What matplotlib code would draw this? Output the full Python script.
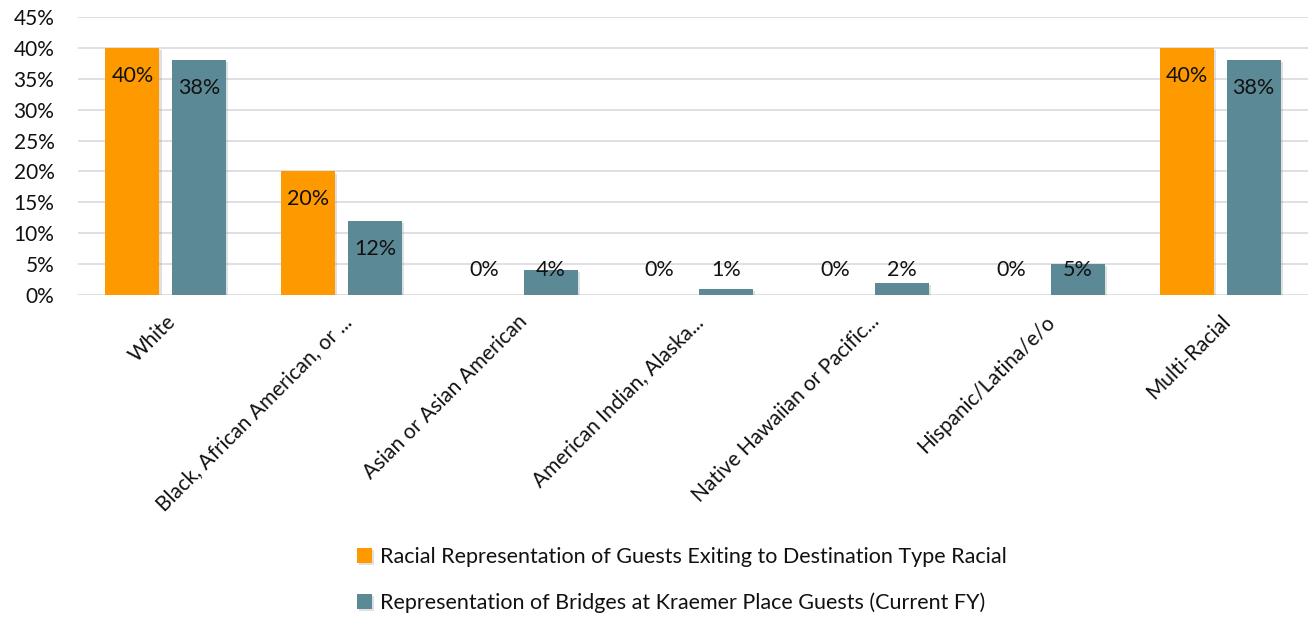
import matplotlib
matplotlib.use("Agg")
import matplotlib.pyplot as plt
import matplotlib.patheffects as pe
import numpy as np
from matplotlib.ticker import FuncFormatter, MultipleLocator

plt.rcParams['font.family'] = ['Lato', 'DejaVu Sans']

categories = ["White", "Black, African American, or ...", "Asian or Asian American",
              "American Indian, Alaska...", "Native Hawaiian or Pacific...",
              "Hispanic/Latina/e/o", "Multi-Racial"]
series1_name = "Racial Representation of Guests Exiting to Destination Type Racial"
series2_name = "Representation of Bridges at Kraemer Place Guests (Current FY)"
series1 = [40, 20, 0, 0, 0, 0, 40]
series2 = [38, 12, 4, 1, 2, 5, 38]

c1 = "#FF9900"
c2 = "#5B8A96"
grid_c = "#DCDCE4"

fig = plt.figure(figsize=(13.14, 6.18), dpi=100)
ax = fig.add_axes([78/1314, 1-295/618, 1230/1314, 278/618])

x = np.arange(len(categories))
w = 0.307
off = 0.19
shadow = [pe.SimplePatchShadow(offset=(1.5, -1.5), shadow_rgbFace="#999999", alpha=0.3), pe.Normal()]
b1 = ax.bar(x - off, series1, w, color=c1, label=series1_name, zorder=3, path_effects=shadow)
b2 = ax.bar(x + off, series2, w, color=c2, label=series2_name, zorder=3, path_effects=shadow)

for xs, vals in ((x - off, series1), (x + off, series2)):
    for xi, v in zip(xs, vals):
        ax.text(xi, max(v - 4.5, 4.0), f"{v}%", ha="center", va="center", fontsize=15.5,
                color="#111111", zorder=4)

ax.set_xlim(-0.5, len(categories) - 0.5)
ax.set_ylim(0, 45)
ax.yaxis.set_major_locator(MultipleLocator(5))
ax.yaxis.set_major_formatter(FuncFormatter(lambda v, p: f"{int(v)}%"))
ax.grid(axis="y", color=grid_c, linewidth=1.3, zorder=0)
ax.set_axisbelow(True)
for s in ax.spines.values():
    s.set_visible(False)
ax.tick_params(axis="both", length=0, labelsize=15, colors="#111111")
ax.tick_params(axis="y", pad=17)
ax.set_xticks(x)
ax.set_xticklabels(categories, rotation=45, ha="right", rotation_mode="anchor")
ax.tick_params(axis="x", pad=12)

leg = fig.legend(handles=[b1, b2], loc="center", bbox_to_anchor=(682/1314, 1-580/618),
                 frameon=False, fontsize=15.5, labelspacing=1.15, handlelength=0.7,
                 handleheight=0.7, handletextpad=0.4)
for t in leg.get_texts():
    t.set_color("#111111")

fig.savefig("out.png", dpi=100)
